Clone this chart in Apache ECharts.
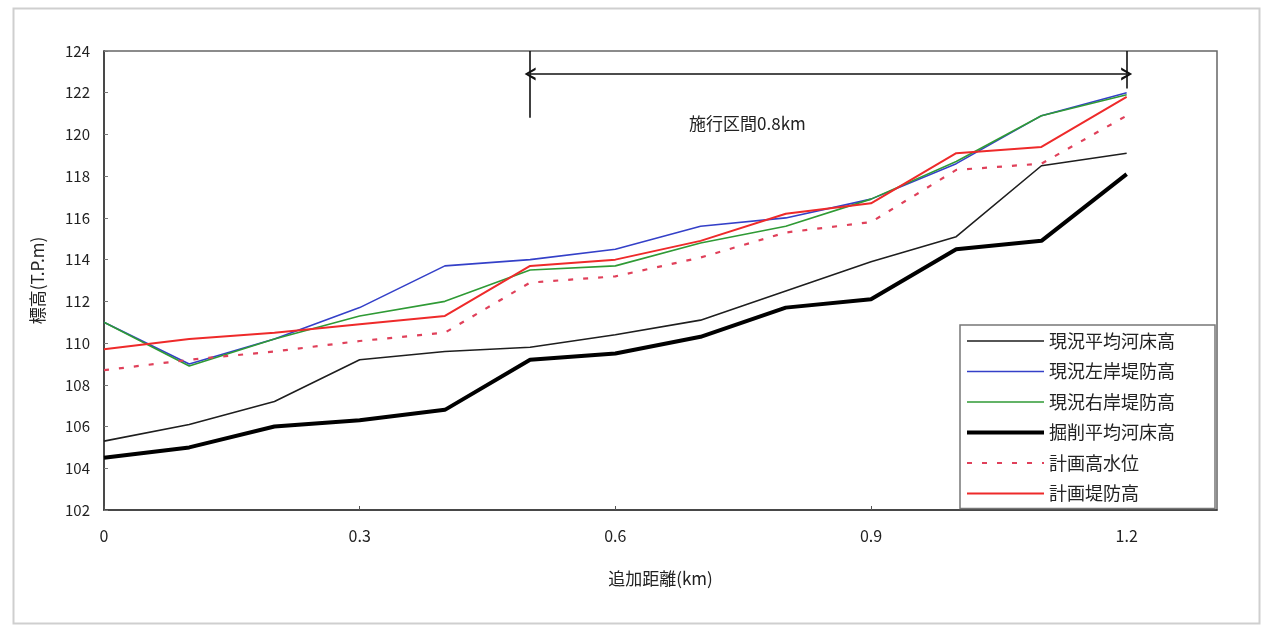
<!DOCTYPE html>
<html>
<head>
<meta charset="utf-8">
<script src="https://cdn.jsdelivr.net/npm/echarts@6/dist/echarts.min.js"></script>
<style>
html,body{margin:0;padding:0;background:#fff;}
#chart{width:1261px;height:625px;}
</style>
</head>
<body>
<div id="chart"></div>
<script>
const distances = [0, 0.1, 0.2, 0.3, 0.4, 0.5, 0.6, 0.7, 0.8, 0.9, 1.0, 1.1, 1.2];
const seriesNames = ['現況平均河床高', '現況左岸堤防高', '現況右岸堤防高', '掘削平均河床高', '計画高水位', '計画堤防高'];
const currentBed   = [105.3, 106.1, 107.2, 109.2, 109.6, 109.8, 110.4, 111.1, 112.5, 113.9, 115.1, 118.5, 119.1];
const leftBank     = [111.0, 109.0, 110.2, 111.7, 113.7, 114.0, 114.5, 115.6, 116.0, 116.9, 118.6, 120.9, 122.0];
const rightBank    = [111.0, 108.9, 110.2, 111.3, 112.0, 113.5, 113.7, 114.8, 115.6, 116.9, 118.7, 120.9, 121.9];
const excavatedBed = [104.5, 105.0, 106.0, 106.3, 106.8, 109.2, 109.5, 110.3, 111.7, 112.1, 114.5, 114.9, 118.1];
const planHWL      = [108.7, 109.2, 109.6, 110.1, 110.5, 112.9, 113.2, 114.1, 115.3, 115.8, 118.3, 118.6, 120.9];
const planLevee    = [109.7, 110.2, 110.5, 110.9, 111.3, 113.7, 114.0, 114.9, 116.2, 116.7, 119.1, 119.4, 121.8];
const xTicks = [0, 0.3, 0.6, 0.9, 1.2];
const yTicks = [102, 104, 106, 108, 110, 112, 114, 116, 118, 120, 122, 124];
const sectionStart = 0.5, sectionEnd = 1.2;
const sectionLabel = '施行区間0.8km';

const pair = arr => distances.map((d, i) => [d, arr[i]]);
const FONT = '"Noto Sans CJK JP", "Noto Sans", sans-serif';
const openArrow = 'path://M0,10 L5,0 L10,10 L8,10 L5,3.5 L2,10 Z';

const chart = echarts.init(document.getElementById('chart'));
const styles = [
  {color: '#1e1e1e', width: 1.6, type: 'solid'},
  {color: '#3440c8', width: 1.6, type: 'solid'},
  {color: '#2f9a35', width: 1.6, type: 'solid'},
  {color: '#000000', width: 4, type: 'solid'},
  {color: '#e0405a', width: 2.2, type: [5, 10]},
  {color: '#ee2a2a', width: 2, type: 'solid'}
];
const dataSets = [currentBed, leftBank, rightBank, excavatedBed, planHWL, planLevee];

const series = dataSets.map((arr, i) => ({
  name: seriesNames[i],
  type: 'line',
  data: pair(arr),
  symbol: 'none',
  smooth: false,
  color: styles[i].color,
  lineStyle: {color: styles[i].color, width: styles[i].width, type: styles[i].type},
  z: 3 + i
}));

series.push({
  name: 'annotation',
  type: 'line',
  data: [],
  symbol: 'none',
  markLine: {
    silent: true,
    animation: false,
    label: {show: false},
    lineStyle: {color: '#111', width: 1.6, type: 'solid'},
    data: [
      [{coord: [sectionStart, 122.9], symbol: openArrow, symbolSize: [13, 11]},
       {coord: [sectionEnd, 122.9], symbol: openArrow, symbolSize: [13, 11]}],
      [{coord: [sectionStart, 124], symbol: 'none'}, {coord: [sectionStart, 120.8], symbol: 'none'}],
      [{coord: [sectionEnd, 124], symbol: 'none'}, {coord: [sectionEnd, 122.2], symbol: 'none'}]
    ]
  },
  markPoint: {
    silent: true,
    animation: false,
    symbol: 'circle',
    symbolSize: 0,
    label: {show: true, position: 'inside', formatter: sectionLabel, color: '#222', fontSize: 17, fontFamily: FONT},
    data: [{coord: [0.755, 120.5]}]
  }
});

chart.setOption({
  animation: false,
  backgroundColor: '#fff',
  graphic: [{
    type: 'rect', left: 11, top: 6,
    shape: {width: 1246, height: 615},
    style: {fill: 'none', stroke: '#cfcfcf', lineWidth: 2},
    silent: true, z: -10
  }],
  grid: {left: 104, top: 51, right: 44, bottom: 115, show: true, borderColor: '#666', borderWidth: 1.5, backgroundColor: 'transparent'},
  legend: {
    data: seriesNames.map((n, i) => ({name: n, lineStyle: {width: styles[i].width, type: styles[i].type, color: styles[i].color}})),
    orient: 'vertical',
    left: 960, top: 325,
    padding: [7, 40, 6, 5],
    itemWidth: 77, itemHeight: 14, itemGap: 12.5,
    backgroundColor: '#fff',
    borderColor: '#777', borderWidth: 1.5,
    itemStyle: {opacity: 0},
    textStyle: {color: '#222', fontSize: 18, fontFamily: FONT}
  },
  xAxis: {
    type: 'value',
    min: 0, max: 1.306, interval: 0.3,
    name: '追加距離(km)',
    nameLocation: 'middle',
    nameGap: 60,
    nameTextStyle: {color: '#222', fontSize: 17, fontFamily: FONT},
    axisLine: {show: true, lineStyle: {color: '#333', width: 1.5}},
    axisTick: {show: true, inside: true, length: 4, lineStyle: {color: '#555'}},
    splitLine: {show: false},
    axisLabel: {
      color: '#222', fontSize: 16, fontFamily: FONT, margin: 18,
      showMaxLabel: false,
      formatter: v => {
        const r = Math.round(v * 10) / 10;
        return xTicks.some(t => Math.abs(t - r) < 1e-6) ? String(r) : '';
      }
    }
  },
  yAxis: {
    type: 'value',
    min: 102, max: 124, interval: 2,
    name: '標高(T.P.m)',
    nameLocation: 'middle',
    nameGap: 58,
    nameRotate: 90,
    nameTextStyle: {color: '#222', fontSize: 17, fontFamily: FONT},
    axisLine: {show: true, lineStyle: {color: '#333', width: 1.5}},
    axisTick: {show: true, inside: true, length: 4, lineStyle: {color: '#777'}},
    splitLine: {show: false},
    axisLabel: {
      color: '#222', fontSize: 15, fontFamily: FONT, margin: 14,
      formatter: v => yTicks.includes(Math.round(v)) ? String(Math.round(v)) : ''
    }
  },
  series: series
});
</script>
</body>
</html>
